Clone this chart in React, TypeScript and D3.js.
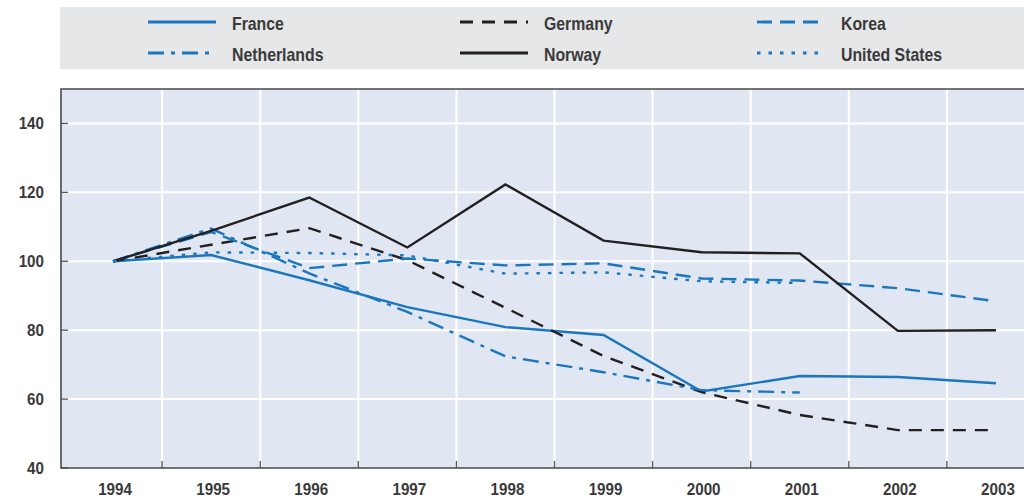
import React from "react";
import * as d3 from "d3";

const years = ["1994", "1995", "1996", "1997", "1998", "1999", "2000", "2001", "2002", "2003"];
const france = [100, 101.8, 94.5, 86.7, 80.9, 78.6, 62.2, 66.7, 66.4, 64.6];
const germany = [100, 104.8, 109.6, 100.3, 86.5, 72.5, 62.0, 55.4, 51.0, 51.0];
const korea = [100, 108.5, 98.0, 100.8, 98.8, 99.4, 95.0, 94.4, 92.2, 88.4];
const netherlands = [100, 109.5, 96.5, 85.3, 72.4, 67.8, 62.6, 61.9];
const norway = [100, 108.8, 118.5, 104.0, 122.3, 106.0, 102.6, 102.3, 79.8, 80.0];
const unitedStates = [100, 102.6, 102.4, 101.7, 96.4, 96.8, 94.2, 93.7];
const yTicks = [40, 60, 80, 100, 120, 140];

const BLUE = "#1a77bd";
const BLACK = "#231f20";

const series = [
  { name: "France", values: france, color: BLUE, dash: "", col: 0, row: 0 },
  { name: "Germany", values: germany, color: BLACK, dash: "13,9", col: 1, row: 0 },
  { name: "Korea", values: korea, color: BLUE, dash: "15,8", col: 2, row: 0 },
  { name: "Netherlands", values: netherlands, color: BLUE, dash: "16,7,4,7", col: 0, row: 1 },
  { name: "Norway", values: norway, color: BLACK, dash: "", col: 1, row: 1 },
  { name: "United States", values: unitedStates, color: BLUE, dash: "3.5,8", col: 2, row: 1 },
];

const FONT = "'Liberation Sans', Arial, sans-serif";

function Label(props: {
  x: number;
  y: number;
  size: number;
  anchor?: "start" | "middle" | "end";
  sx?: number;
  children: React.ReactNode;
}) {
  const { x, y, size, anchor = "start", sx = 0.9, children } = props;
  return (
    <text
      transform={`translate(${x},${y}) scale(${sx},1)`}
      textAnchor={anchor}
      fontSize={size}
      fontWeight="bold"
      fill="#3a3a3a"
    >
      {children}
    </text>
  );
}

export default function App() {
  const W = 1024;
  const H = 499;
  const left = 61;
  const top = 89;
  const bottom = 468;
  const x = d3.scaleBand<string>().domain(years).range([64, 1045]).padding(0);
  const y = d3.scaleLinear().domain([40, 150]).range([bottom, top]);
  const cx = (yr: string) => (x(yr) as number) + x.bandwidth() / 2;
  const line = d3
    .line<number>()
    .x((_, i) => cx(years[i]))
    .y((d) => y(d));
  const boundaries = years.slice(1).map((yr) => x(yr) as number);
  const legendCols = [148, 460, 757];
  const legendRows = [22, 53];

  return (
    <svg
      width={W}
      height={H}
      style={{ position: "absolute", left: 0, top: 0, background: "#fff" }}
      fontFamily={FONT}
    >
      {/* legend */}
      <rect x={60} y={7} width={W - 60} height={62} fill="#e6e7e9" />
      {series.map((s) => (
        <g key={s.name}>
          <line
            x1={legendCols[s.col]}
            x2={legendCols[s.col] + 68}
            y1={legendRows[s.row]}
            y2={legendRows[s.row]}
            stroke={s.color}
            strokeWidth={2.8}
            strokeDasharray={s.dash || undefined}
          />
          <Label x={legendCols[s.col] + 84} y={legendRows[s.row] + 7.5} size={18} sx={0.88}>
            {s.name}
          </Label>
        </g>
      ))}

      {/* plot background */}
      <rect x={left} y={top} width={W - left} height={bottom - top} fill="#e1e6f3" />
      {/* grid */}
      {yTicks
        .filter((t) => t > 40)
        .map((t) => (
          <line key={t} x1={left} x2={W} y1={y(t)} y2={y(t)} stroke="#fff" strokeWidth={2} />
        ))}
      {boundaries.map((b) => (
        <line key={b} x1={b} x2={b} y1={top} y2={bottom} stroke="#fff" strokeWidth={2} />
      ))}
      {/* ticks */}
      {yTicks.map((t) => (
        <line key={t} x1={left} x2={left + 7} y1={y(t)} y2={y(t)} stroke="#555" strokeWidth={1.3} />
      ))}
      {boundaries.map((b) => (
        <line key={b} x1={b} x2={b} y1={bottom} y2={bottom - 7} stroke="#555" strokeWidth={1.3} />
      ))}
      {/* frame */}
      <path d={`M${W},${top}H${left}V${bottom}H${W}`} fill="none" stroke="#4a4a4a" strokeWidth={1.6} />

      {/* series */}
      {series.map((s) => (
        <path
          key={s.name}
          d={line(s.values) || ""}
          fill="none"
          stroke={s.color}
          strokeWidth={2.4}
          strokeDasharray={s.dash || undefined}
          strokeLinejoin="miter"
        />
      ))}

      {/* axis labels */}
      {yTicks.map((t) => (
        <Label key={t} x={44} y={y(t) + 6} anchor="end" size={16.5} sx={0.92}>
          {t}
        </Label>
      ))}
      {years.map((yr) => (
        <Label key={yr} x={cx(yr) + 2} y={495} anchor="middle" size={16.5} sx={0.92}>
          {yr}
        </Label>
      ))}
    </svg>
  );
}
